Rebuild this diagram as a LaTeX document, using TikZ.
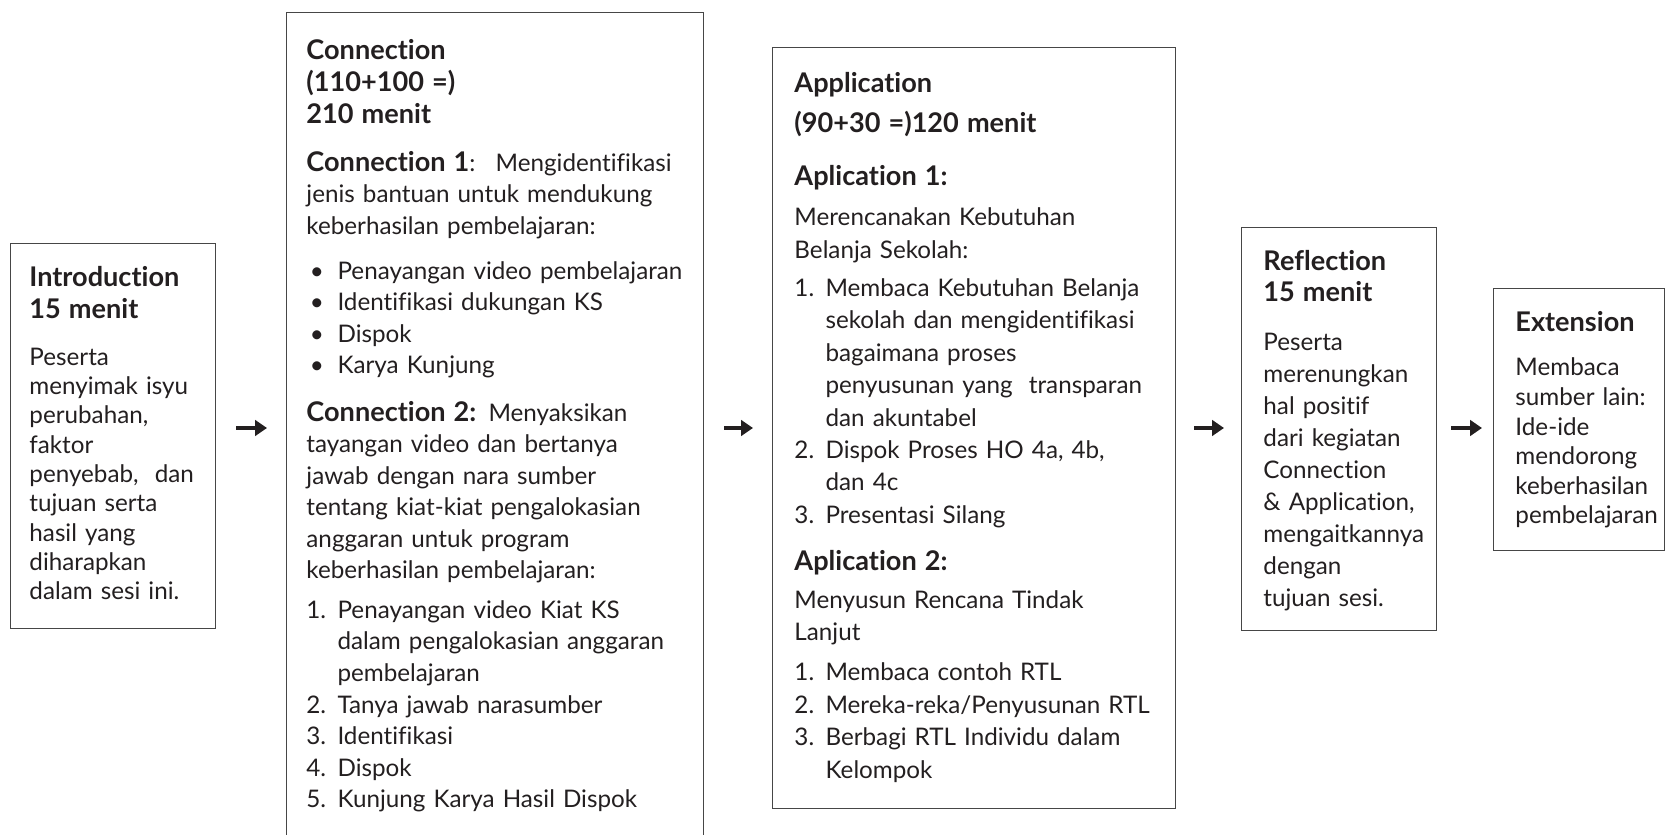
\documentclass[tikz,border=0pt]{standalone}
\usepackage{fontspec}
\setmainfont{Lato}[WordSpace=1.35, Ligatures=NoCommon]
\usetikzlibrary{positioning,arrows.meta}
\definecolor{inkdark}{RGB}{35,31,32}
\definecolor{boxgray}{RGB}{70,70,70}
\newdimen\px \px=0.45pt
\newcommand{\itemlbl}[1]{\makebox[14pt][l]{#1}}
\newcommand{\itemcont}{\hspace*{14pt}}
\newcommand{\stagehead}[1]{{\fontsize{12.2}{14}\selectfont\bfseries #1}}
\tikzset{stage/.style={draw=boxgray, line width=0.6pt, inner sep=0pt, anchor=north west},
  stagetext/.style={anchor=base west, inner sep=0pt, align=left, text width=200pt, text=inkdark},
  flow/.style={line width=2.2pt, draw=inkdark, -{Triangle[length=5.4pt,width=7pt]}}}

\begin{document}
\begin{tikzpicture}[x=0.45pt, y=-0.45pt]
  \useasboundingbox (0,0) rectangle (1666,835);
  % boxes
  \node[stage, minimum width=205\px, minimum height=385\px] (intro) at (10,243) {};
  \node[stage, minimum width=417\px, minimum height=830\px] (conn) at (286,12) {};
  \node[stage, minimum width=403\px, minimum height=761\px] (app) at (772,47) {};
  \node[stage, minimum width=195\px, minimum height=403\px] (refl) at (1241,227) {};
  \node[stage, minimum width=171\px, minimum height=262\px] (ext) at (1493,288) {};

  % texts
  \node[stagetext, font=\fontsize{10.9}{13.2}\selectfont] (introtxt) at (29,287) {%
    \stagehead{Introduction}\\[1.2pt]
    \stagehead{15 menit}\\[7.6pt]
    Peserta\\
    menyimak isyu\\
    perubahan,\\
    faktor\\
    penyebab, \ dan\\
    tujuan serta\\
    hasil yang\\
    diharapkan\\
    dalam sesi ini.};

  \node[stagetext, font=\fontsize{10.9}{14.2}\selectfont] (conntxt) at (306,60) {%
    \stagehead{Connection}\\
    \stagehead{(110+100 =)}\\
    \stagehead{210 menit}\\[7.5pt]
    \stagehead{Connection 1}: \ Mengidentifikasi\\
    jenis bantuan untuk mendukung\\
    keberhasilan pembelajaran:\\[6pt]
    \itemlbl{\hspace{1.5pt}\textbullet}Penayangan video pembelajaran\\
    \itemlbl{\hspace{1.5pt}\textbullet}Identifikasi dukungan KS\\
    \itemlbl{\hspace{1.5pt}\textbullet}Dispok\\
    \itemlbl{\hspace{1.5pt}\textbullet}Karya Kunjung\\[7pt]
    \stagehead{Connection 2:} Menyaksikan\\
    tayangan video dan bertanya\\
    jawab dengan nara sumber\\
    tentang kiat-kiat pengalokasian\\
    anggaran untuk program\\
    keberhasilan pembelajaran:\\[3.6pt]
    \itemlbl{1.}Penayangan video Kiat KS\\
    \itemcont dalam pengalokasian anggaran\\
    \itemcont pembelajaran\\
    \itemlbl{2.}Tanya jawab narasumber\\
    \itemlbl{3.}Identifikasi\\
    \itemlbl{4.}Dispok\\
    \itemlbl{5.}Kunjung Karya Hasil Dispok};

  \node[stagetext, font=\fontsize{10.9}{14.6}\selectfont] (apptxt) at (794,93) {%
    \stagehead{Application}\\[3.4pt]
    \stagehead{(90+30 =)120 menit}\\[9.2pt]
    \stagehead{Aplication 1:}\\[3.4pt]
    Merencanakan Kebutuhan\\
    Belanja Sekolah:\\[2.5pt]
    \itemlbl{1.}Membaca Kebutuhan Belanja\\
    \itemcont sekolah dan mengidentifikasi\\
    \itemcont bagaimana proses\\
    \itemcont penyusunan yang \ transparan\\
    \itemcont dan akuntabel\\
    \itemlbl{2.}Dispok Proses HO 4a, 4b,\\
    \itemcont dan 4c\\
    \itemlbl{3.}Presentasi Silang\\[6.5pt]
    \stagehead{Aplication 2:}\\[2.5pt]
    Menyusun Rencana Tindak\\
    Lanjut\\[3.4pt]
    \itemlbl{1.}Membaca contoh RTL\\
    \itemlbl{2.}Mereka-reka/Penyusunan RTL\\
    \itemlbl{3.}Berbagi RTL Individu dalam\\
    \itemcont Kelompok};

  \node[stagetext, font=\fontsize{10.9}{14.4}\selectfont] (refltxt) at (1263,271) {%
    \stagehead{Reflection}\\[-0.6pt]
    \stagehead{15 menit}\\[7.6pt]
    Peserta\\
    merenungkan\\
    hal positif\\
    dari kegiatan\\
    Connection\\
    \& Application,\\
    mengaitkannya\\
    dengan\\
    tujuan sesi.};

  \node[stagetext, font=\fontsize{10.9}{13.3}\selectfont] (exttxt) at (1515,332) {%
    \stagehead{Extension}\\[6.5pt]
    Membaca\\
    sumber lain:\\
    Ide-ide\\
    mendorong\\
    keberhasilan\\
    pembelajaran};

  % arrows
  \coordinate (axis) at (0,428);
  \draw[flow, shorten <=20\px, shorten >=19\px] (intro.east |- axis) -- (conn.west |- axis);
  \draw[flow, shorten <=20\px, shorten >=19\px] (conn.east |- axis) -- (app.west |- axis);
  \draw[flow, shorten <=18\px, shorten >=17\px] (app.east |- axis) -- (refl.west |- axis);
  \draw[flow, shorten <=14\px, shorten >=11\px] (refl.east |- axis) -- (ext.west |- axis);
\end{tikzpicture}
\end{document}
